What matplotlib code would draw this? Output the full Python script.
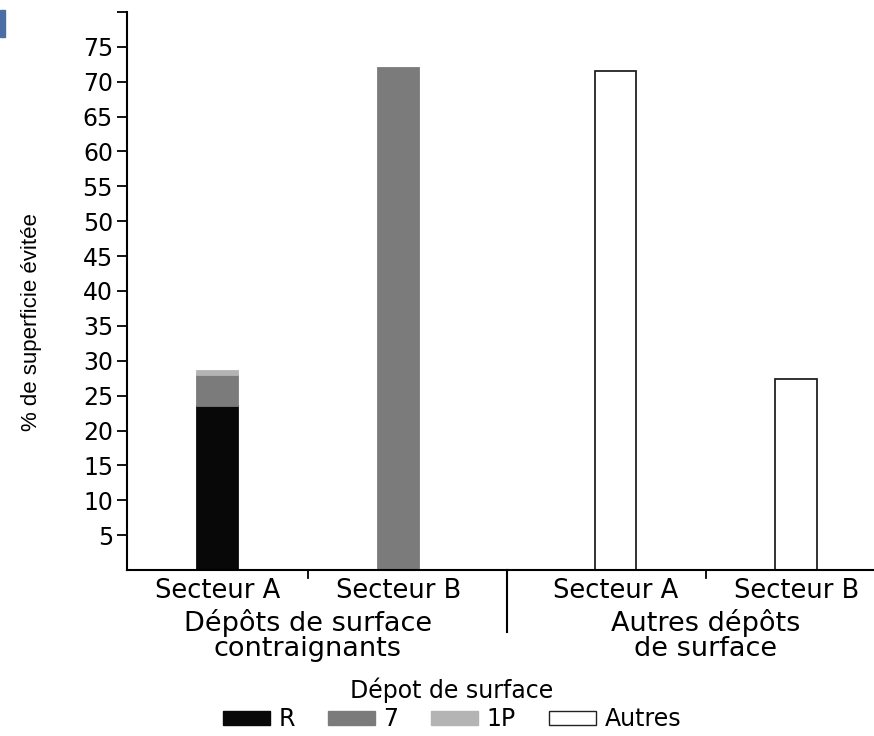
import matplotlib.pyplot as plt
from matplotlib.patches import Patch, Rectangle
import numpy

# data
sectors = ["Secteur A", "Secteur B", "Secteur A", "Secteur B"]
groups = ["Dépôts de surface\ncontraignants", "Autres dépôts\nde surface"]
group_of_bar = [0, 0, 1, 1]
val_R = [23.5, 0, 0, 0]
val_7 = [4.5, 72.0, 0, 0]
val_1P = [0.5, 0, 0, 0]
val_autres = [0, 0, 71.5, 27.4]
series_names = ["R", "7", "1P", "Autres"]
yticks = [5, 10, 15, 20, 25, 30, 35, 40, 45, 50, 55, 60, 65, 70, 75, 80]

colors = ["#080808", "#7b7b7b", "#b4b4b4", "white"]
font = "DejaVu Sans"
fs = 17

fig = plt.figure(figsize=(8.74, 7.36), dpi=100)
ax = fig.add_axes([127 / 874, 166 / 736, 1 - 127 / 874, 558 / 736])

pos = numpy.arange(4) + 0.5 + 0.2 * numpy.array(group_of_bar)
w = 0.23
bottom = numpy.zeros(4)
for vals, c in zip([val_R, val_7, val_1P, val_autres], colors):
    vals = numpy.array(vals)
    mask = vals > 0
    ax.bar(pos[mask], vals[mask], width=w, bottom=bottom[mask], color=c,
           edgecolor="#222222" if c == "white" else c, linewidth=1.3)
    bottom += vals

ax.set_xlim(0, 4.13)
ax.set_ylim(0, 80)
ax.set_yticks(yticks)
ax.set_yticklabels([str(t) if t < 80 else "" for t in yticks], fontsize=fs, family=font)
ax.tick_params(axis="y", length=7, width=1.3, pad=3)
ax.set_xticks(pos)
ax.set_xticklabels(sectors, fontsize=18.5, family=font)
ax.tick_params(axis="x", length=0, pad=6)
for s in ["top", "right"]:
    ax.spines[s].set_visible(False)
ax.spines["left"].set_linewidth(1.5)
ax.spines["bottom"].set_linewidth(1.5)

# separators between sectors and groups
trans = ax.get_xaxis_transform()
ax.plot([1.0, 1.0], [0, -0.014], transform=trans, color="black", lw=1.3, clip_on=False)
ax.plot([3.2, 3.2], [0, -0.014], transform=trans, color="black", lw=1.3, clip_on=False)
ax.plot([2.1, 2.1], [0, -0.112], transform=trans, color="black", lw=1.5, clip_on=False)

for gi, g in enumerate(groups):
    xc = pos[numpy.array(group_of_bar) == gi].mean()
    ax.text(xc, -0.07, g, transform=trans, ha="center", va="top", fontsize=19.5,
            family=font, linespacing=0.95)

ax.set_ylabel("% de superficie évitée", fontsize=16, family=["Liberation Sans", "DejaVu Sans"])
ax.yaxis.set_label_coords(-0.114, 0.445)

handles = [Patch(facecolor=c, edgecolor="#222222" if c == "white" else c) for c in colors]
leg = fig.legend(handles, series_names, loc="center", bbox_to_anchor=(0.517, 0.043), ncol=4,
                 frameon=False, title="Dépot de surface", prop={"family": font, "size": fs},
                 handlelength=2.0, handleheight=0.5, handletextpad=0.35, columnspacing=1.4,
                 borderpad=0, labelspacing=0.2)
leg.get_title().set_fontsize(fs)
leg.get_title().set_family(font)

# small blue mark in the top-left corner
fig.patches.append(Rectangle((0, 1 - 37 / 736), 5 / 874, 27 / 736, transform=fig.transFigure,
                             color="#4a6fa5"))

fig.savefig("out.png", dpi=100)
